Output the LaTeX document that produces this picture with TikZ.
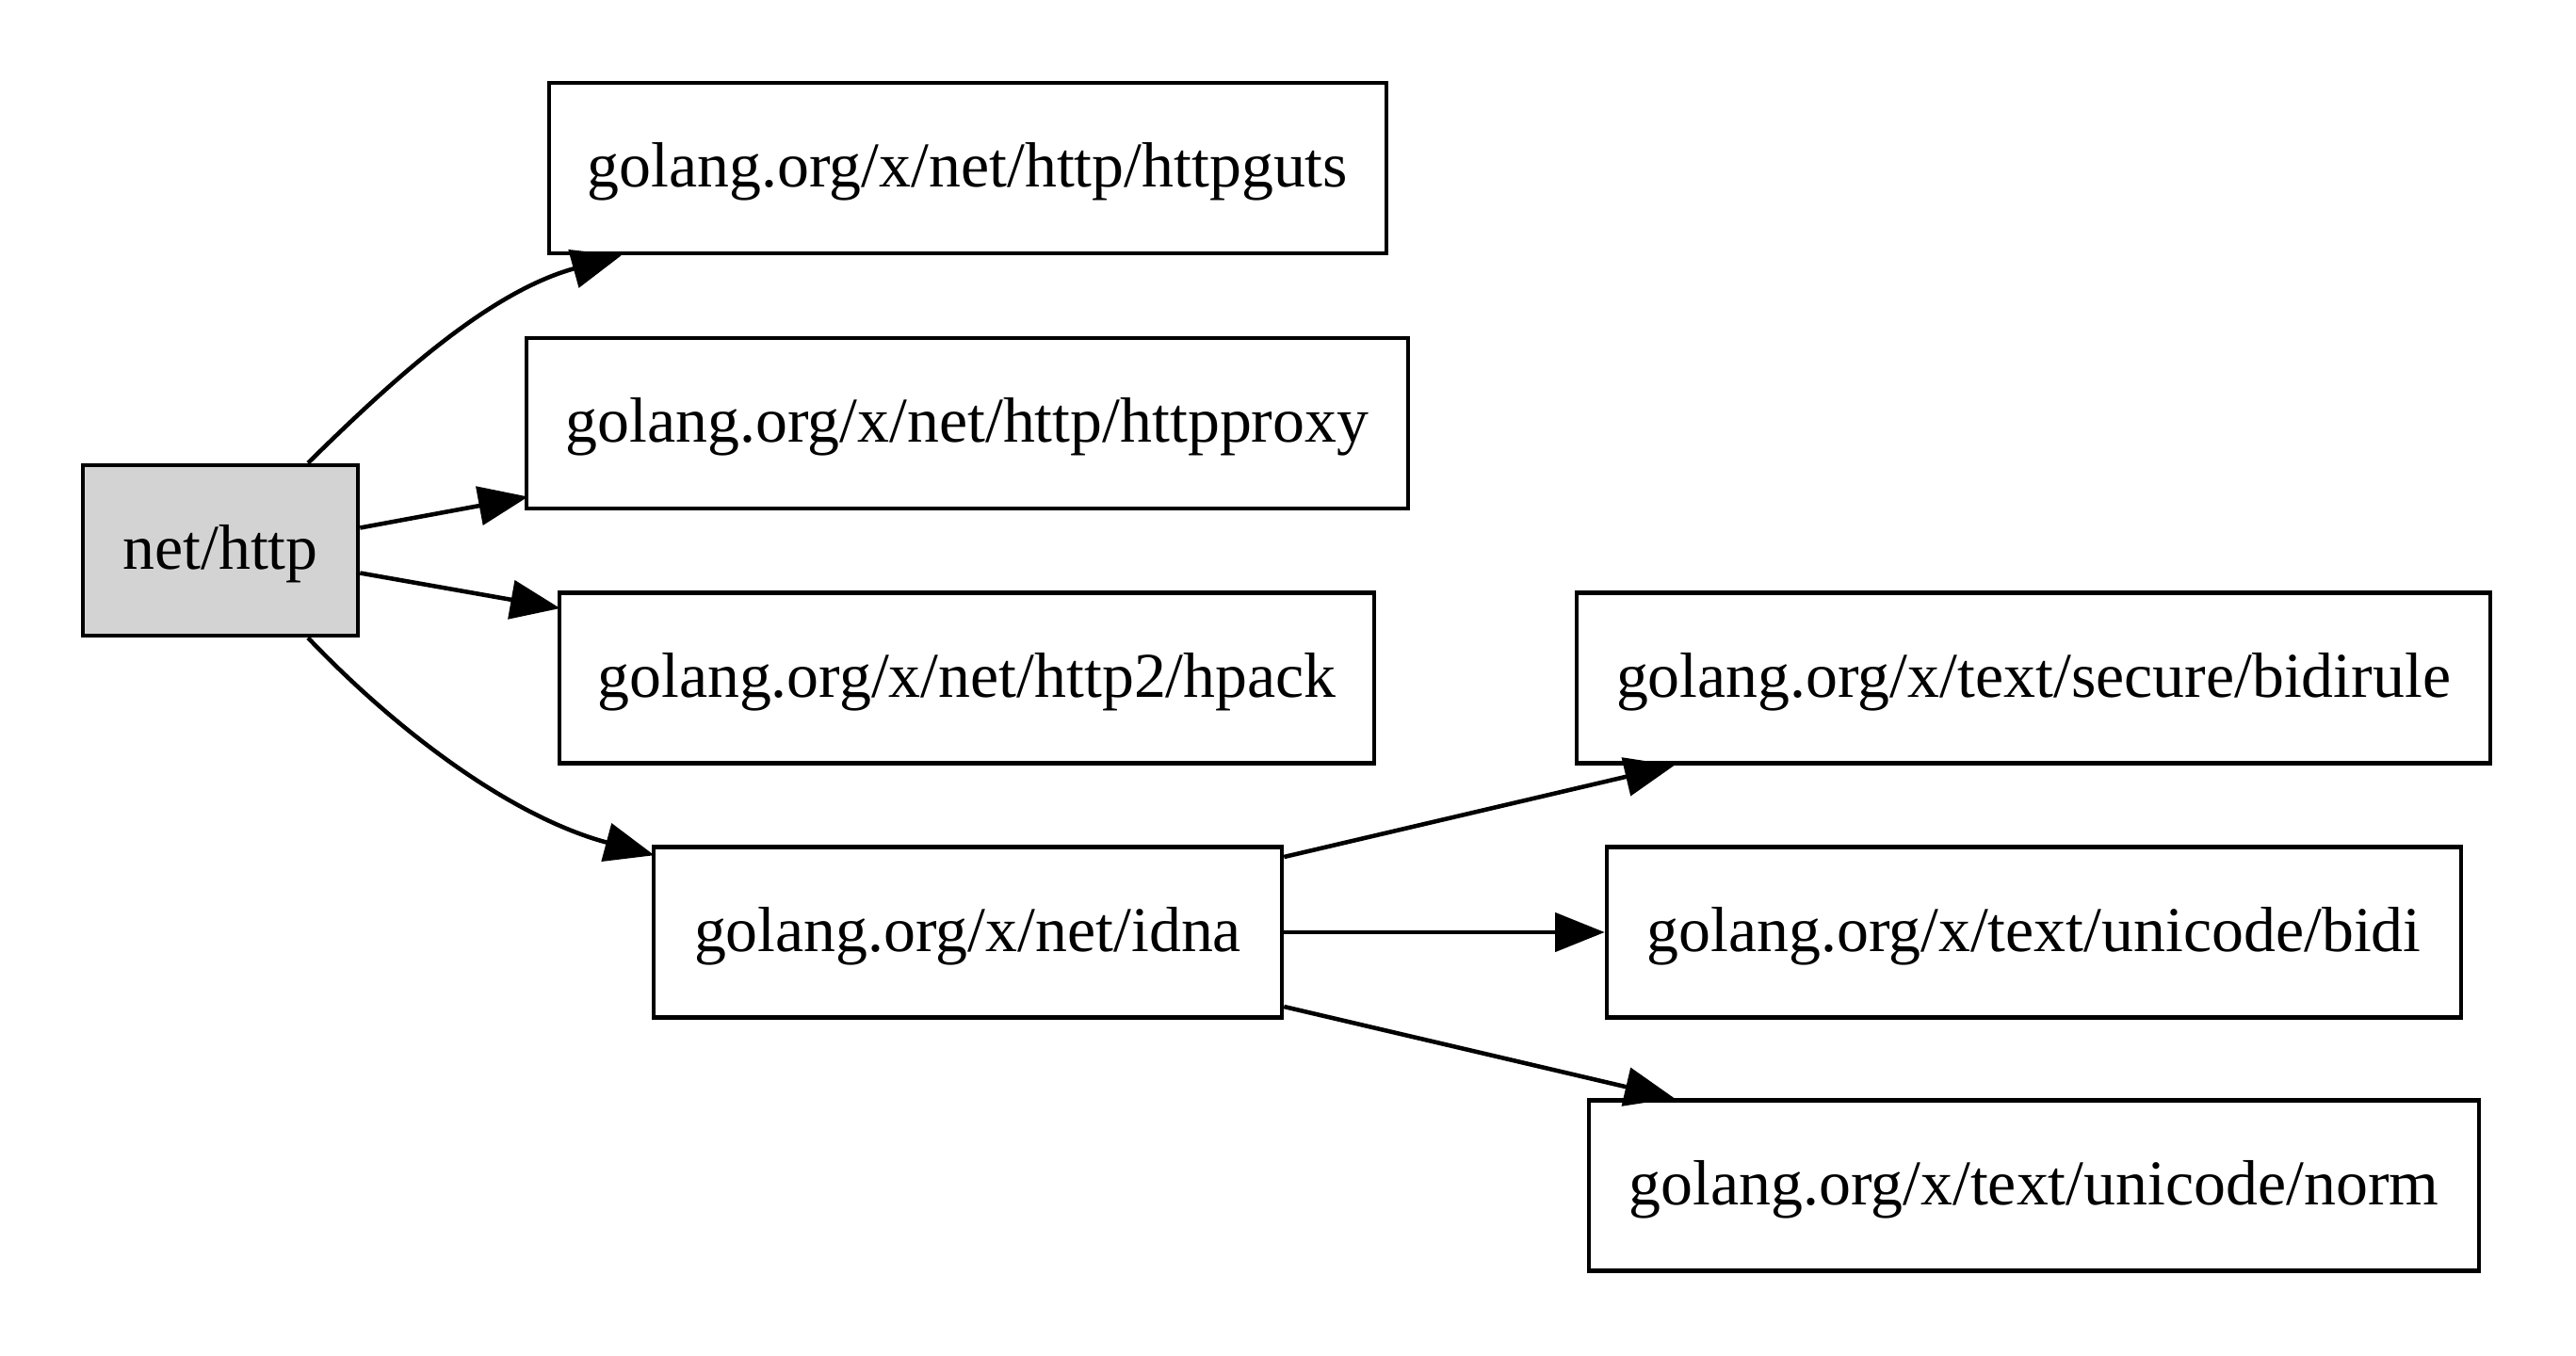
\documentclass[tikz,border=0pt]{standalone}
\usepackage{fontspec}
\setmainfont{Liberation Serif}
\usetikzlibrary{arrows.meta}
\definecolor{lgray}{HTML}{D3D3D3}
\tikzset{
  box/.style={draw=black, line width=1.3pt, rectangle, inner sep=0pt,
    minimum height=1.81cm, text height=16pt, text depth=4.5pt,
    font=\fontsize{19.3}{23}\selectfont},
  edge/.style={line width=1.3pt, -{Triangle[length=15pt,width=11.7pt]}}
}
\begin{document}
\begin{tikzpicture}
\useasboundingbox (0,0) rectangle (27.35,-14.40);
\node[box, fill=lgray, minimum width=2.92cm] (nethttp) at (2.34,-5.845) {net/http};
\node[box, minimum width=8.89cm] (httpguts) at (10.275,-1.785) {golang.org/x/net/http/httpguts};
\node[box, minimum width=9.36cm] (httpproxy) at (10.27,-4.495) {golang.org/x/net/http/httpproxy};
\node[box, minimum width=8.65cm] (hpack) at (10.265,-7.20) {golang.org/x/net/http2/hpack};
\node[box, minimum width=6.67cm] (idna) at (10.275,-9.90) {golang.org/x/net/idna};
\node[box, minimum width=9.70cm] (bidirule) at (21.59,-7.20) {golang.org/x/text/secure/bidirule};
\node[box, minimum width=9.07cm] (bidi) at (21.595,-9.90) {golang.org/x/text/unicode/bidi};
\node[box, minimum width=9.45cm] (norm) at (21.595,-12.59) {golang.org/x/text/unicode/norm};

\draw[edge] ([xshift=0.93cm]nethttp.north) .. controls (4.20,-4.00) and (5.20,-3.10) .. ([xshift=0.79cm]httpguts.south west);
\draw[edge] ([yshift=0.24cm]nethttp.east) -- ([xshift=0.04cm,yshift=-0.78cm]httpproxy.west);
\draw[edge] ([yshift=-0.24cm]nethttp.east) -- ([xshift=0.03cm,yshift=0.74cm]hpack.west);
\draw[edge] ([xshift=0.93cm]nethttp.south) .. controls (4.25,-7.80) and (5.45,-8.68) .. ([xshift=0.03cm,yshift=-0.11cm]idna.north west);
\draw[edge] ([yshift=0.80cm]idna.east) -- ([xshift=1.06cm]bidirule.south west);
\draw[edge] (idna.east) -- (bidi.west);
\draw[edge] ([yshift=-0.79cm]idna.east) -- ([xshift=0.93cm]norm.north west);
\end{tikzpicture}
\end{document}
